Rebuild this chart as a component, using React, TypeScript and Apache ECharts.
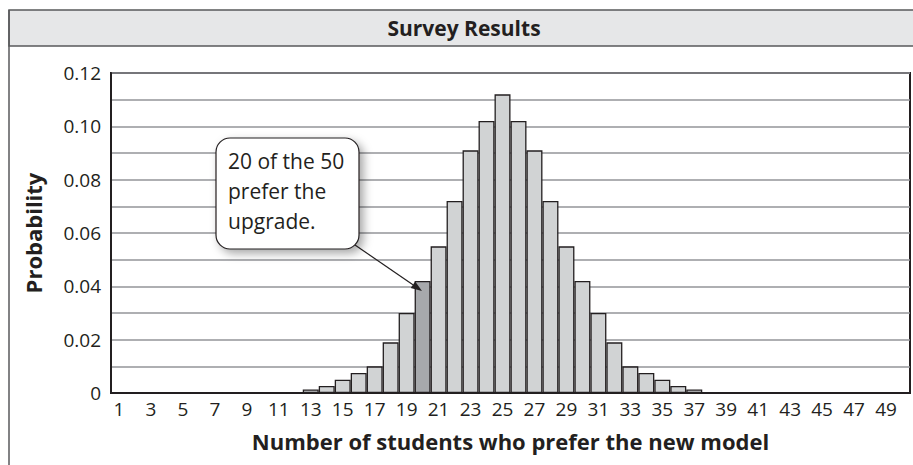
import React, { useEffect, useRef } from "react";
import * as echarts from "echarts";

const categories: string[] = Array.from({ length: 50 }, (_, i) => String(i + 1));
const probabilities: number[] = [
  0, 0, 0, 0, 0, 0, 0, 0, 0, 0, 0, 0,
  0.0013, 0.0026, 0.005, 0.0075, 0.01, 0.019, 0.03, 0.042, 0.055, 0.072, 0.091, 0.102,
  0.112,
  0.102, 0.091, 0.072, 0.055, 0.042, 0.03, 0.019, 0.01, 0.0075, 0.005, 0.0026, 0.0013,
  0, 0, 0, 0, 0, 0, 0, 0, 0, 0, 0, 0, 0,
];
const highlighted = "20";
const titleText = "Survey Results";
const xTitle = "Number of students who prefer the new model";
const yTitle = "Probability";
const calloutText = "20 of the 50\nprefer the\nupgrade.";

const FONT = "'Open Sans', 'Noto Sans', sans-serif";
const INK = "#231f20";

export default function App() {
  const ref = useRef<HTMLDivElement>(null);
  useEffect(() => {
    document.body.style.margin = "0";
    if (!ref.current) return;
    const chart = echarts.init(ref.current, null, { renderer: "svg" });
    const tip = [422, 291];
    const start = [355, 245];
    const dx = tip[0] - start[0];
    const dy = tip[1] - start[1];
    const len = Math.sqrt(dx * dx + dy * dy);
    const ux = dx / len, uy = dy / len;
    const hl = 11, hw = 4;
    const bx = tip[0] - ux * hl, by = tip[1] - uy * hl;
    chart.setOption({
      animation: false,
      backgroundColor: "#ffffff",
      textStyle: { fontFamily: FONT },
      grid: {
        left: 111, right: 3, top: 73, bottom: 72,
        show: true, borderColor: INK, borderWidth: 2, backgroundColor: "transparent",
      },
      xAxis: {
        type: "category",
        data: categories,
        name: xTitle,
        nameLocation: "middle",
        nameGap: 37,
        nameTextStyle: { fontFamily: FONT, fontWeight: "bold", fontSize: 22, color: INK },
        axisLine: { lineStyle: { color: INK, width: 2 } },
        axisTick: { show: false },
        axisLabel: { interval: 1, fontFamily: FONT, fontSize: 19, color: INK, margin: 6 },
        splitLine: { show: false },
      },
      yAxis: {
        type: "value",
        min: 0,
        max: 0.12,
        interval: 0.01,
        name: yTitle,
        nameLocation: "middle",
        nameGap: 67,
        nameTextStyle: { fontFamily: FONT, fontWeight: "bold", fontSize: 22, color: INK },
        axisLine: { show: true, lineStyle: { color: INK, width: 2 } },
        axisTick: { show: false },
        axisLabel: {
          fontFamily: FONT, fontSize: 19, color: INK, margin: 10,
          formatter: (v: number) => {
            const n = Math.round(v * 100);
            if (n % 2 !== 0) return "";
            return n === 0 ? "0" : v.toFixed(2);
          },
        },
        splitLine: { show: true, lineStyle: { color: "#939598", width: 1.5 } },
      },
      series: [
        {
          type: "bar",
          data: probabilities.map((v, i) => ({
            value: v,
            itemStyle: categories[i] === highlighted
              ? { color: "#a7a9ac" }
              : undefined,
          })),
          barCategoryGap: "0%",
          itemStyle: { color: "#d1d3d4", borderColor: INK, borderWidth: 1.3 },
          z: 3,
        },
      ],
      graphic: [
        {
          type: "rect",
          shape: { x: 9, y: 10, width: 920, height: 36 },
          style: { fill: "#e6e7e8", stroke: "#58595b", lineWidth: 1.5 },
          z: 10,
        },
        {
          type: "line",
          shape: { x1: 9, y1: 10, x2: 9, y2: 470 },
          style: { stroke: "#58595b", lineWidth: 1.5 },
          z: 10,
        },
        {
          type: "text",
          x: 464,
          y: 28,
          style: {
            text: titleText, fontFamily: FONT, fontWeight: "bold", fontSize: 21,
            fill: INK, align: "center", verticalAlign: "middle",
          },
          z: 11,
        },
        {
          type: "rect",
          shape: { x: 216, y: 138, width: 143, height: 111, r: 14 },
          style: {
            fill: "#ffffff", stroke: INK, lineWidth: 1.2,
            shadowBlur: 10, shadowColor: "rgba(0,0,0,0.35)", shadowOffsetX: 4, shadowOffsetY: 4,
          },
          z: 20,
        },
        {
          type: "text",
          x: 228,
          y: 146,
          style: {
            text: calloutText, fontFamily: FONT, fontSize: 21, lineHeight: 30,
            fill: INK, align: "left", verticalAlign: "top",
          },
          z: 21,
        },
        {
          type: "line",
          shape: { x1: start[0], y1: start[1], x2: bx, y2: by },
          style: { stroke: INK, lineWidth: 1.2 },
          z: 21,
        },
        {
          type: "polygon",
          shape: {
            points: [
              [tip[0], tip[1]],
              [bx - uy * hw, by + ux * hw],
              [bx + uy * hw, by - ux * hw],
            ],
          },
          style: { fill: INK },
          z: 21,
        },
      ],
    });
    return () => chart.dispose();
  }, []);
  return <div ref={ref} style={{ width: 913, height: 465 }} />;
}
